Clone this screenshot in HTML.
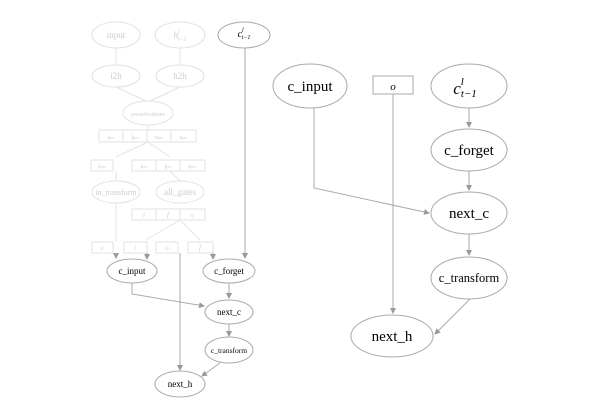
<!DOCTYPE html>
<html><head><style>body{margin:0;background:#fff}</style></head><body>
<svg width="600" height="413" viewBox="0 0 600 413" xmlns="http://www.w3.org/2000/svg" font-family="Liberation Serif, serif">
<defs>
<marker id="a" markerWidth="6" markerHeight="6" refX="5" refY="3" orient="auto"><path d="M0,0L6,3L0,6z" fill="#999"/></marker>
<marker id="b" markerWidth="6" markerHeight="6" refX="5" refY="3" orient="auto"><path d="M0,0L6,3L0,6z" fill="#ddd"/></marker>
</defs>
<!-- faint left part -->
<g stroke="#e2e2e2" fill="none">
<ellipse cx="116" cy="35" rx="24" ry="13"/><ellipse cx="180" cy="35" rx="25" ry="13"/>
<ellipse cx="116" cy="76" rx="24" ry="11"/><ellipse cx="180" cy="76" rx="24" ry="11"/>
<ellipse cx="148" cy="113" rx="25" ry="12"/>
<rect x="99" y="130" width="97" height="12"/><line x1="123" y1="130" x2="123" y2="142"/><line x1="147" y1="130" x2="147" y2="142"/><line x1="171" y1="130" x2="171" y2="142"/>
<rect x="91" y="160" width="22" height="11"/>
<rect x="132" y="160" width="73" height="11"/><line x1="156" y1="160" x2="156" y2="171"/><line x1="180" y1="160" x2="180" y2="171"/>
<ellipse cx="116" cy="192" rx="24" ry="11"/><ellipse cx="180" cy="192" rx="24" ry="11"/>
<rect x="132" y="209" width="73" height="11"/><line x1="156" y1="209" x2="156" y2="220"/><line x1="180" y1="209" x2="180" y2="220"/>
<rect x="92" y="242" width="21" height="11"/><rect x="124" y="242" width="23" height="11"/><rect x="156" y="242" width="22" height="11"/><rect x="188" y="242" width="25" height="11"/>
<path d="M116 48V65M180 48V65M116 87L146 101M180 87L150 101M148 125V130M148 142L116 157M148 142L170 157M116 171V181M170 171L180 181M116 203V242M180 220L146 240M180 220L200 240"/>
</g>
<g fill="#ccc" font-size="9" text-anchor="middle">
<text x="116" y="38">input</text><text x="180" y="38" font-style="italic">h<tspan font-size="6" dy="-4">l</tspan><tspan font-size="6" dx="-2" dy="7">t−1</tspan></text>
<text x="116" y="79">i2h</text><text x="180" y="79">h2h</text>
<text x="148" y="116" font-size="6">preactivations</text>
<text x="111" y="139" font-size="6" font-style="italic">i<tspan font-size="4">pre</tspan></text><text x="135" y="139" font-size="6" font-style="italic">f<tspan font-size="4">pre</tspan></text><text x="159" y="139" font-size="6" font-style="italic">o<tspan font-size="4">pre</tspan></text><text x="183" y="139" font-size="6" font-style="italic">x<tspan font-size="4">pre</tspan></text>
<text x="102" y="168" font-size="6" font-style="italic">x<tspan font-size="4">pre</tspan></text>
<text x="144" y="168" font-size="6" font-style="italic">i<tspan font-size="4">pre</tspan></text><text x="168" y="168" font-size="6" font-style="italic">f<tspan font-size="4">pre</tspan></text><text x="192" y="168" font-size="6" font-style="italic">o<tspan font-size="4">pre</tspan></text>
<text x="116" y="195" font-size="8">in_transform</text><text x="180" y="195">all_gates</text>
<g font-size="7" font-style="italic"><text x="144" y="217">i</text><text x="168" y="217">f</text><text x="192" y="217">o</text>
<text x="102" y="250">x</text><text x="135" y="250">i</text><text x="167" y="250">o</text><text x="200" y="250">f</text></g>
</g>
<!-- dark left part -->
<g stroke="#aaa" fill="none">
<ellipse cx="244" cy="35" rx="26" ry="13"/>
<ellipse cx="132" cy="271" rx="25" ry="12"/><ellipse cx="229" cy="271" rx="26" ry="12"/>
<ellipse cx="229" cy="312" rx="24" ry="12"/><ellipse cx="229" cy="350" rx="24" ry="13"/>
<ellipse cx="180" cy="384" rx="25" ry="13"/>
</g>
<g stroke="#aaa" fill="none" marker-end="url(#a)">
<path d="M245 48V258"/><path d="M180 253V370"/><path d="M116 253V258"/><path d="M147 253L147 259"/><path d="M213 253V259"/>
<path d="M132 283V294L204 306"/><path d="M229 283V298"/><path d="M229 324V336"/><path d="M220 363L202 376"/>
</g>
<g font-size="9" text-anchor="middle" fill="#000">
<text x="244" y="37" font-style="italic" font-size="10">c<tspan font-size="6" dy="-5">l</tspan><tspan font-size="6" dx="-2" dy="7">t−1</tspan></text>
<text x="132" y="274">c_input</text><text x="229" y="274">c_forget</text><text x="229" y="315">next_c</text>
<text x="229" y="353" font-size="7.5">c_transform</text><text x="180" y="387">next_h</text>
</g>
<!-- right part -->
<g stroke="#aaa" fill="none">
<ellipse cx="310" cy="86" rx="37" ry="22"/>
<rect x="373" y="76" width="40" height="18"/>
<ellipse cx="469" cy="86" rx="38" ry="22"/>
<ellipse cx="469" cy="150" rx="38" ry="21"/>
<ellipse cx="469" cy="213" rx="38" ry="21"/>
<ellipse cx="469" cy="278" rx="38" ry="21"/>
<ellipse cx="392" cy="336" rx="41" ry="21"/>
</g>
<g stroke="#aaa" fill="none" marker-end="url(#a)">
<path d="M393 94V313"/><path d="M469 108V127"/><path d="M469 171V190"/><path d="M469 234V255"/>
<path d="M314 108V188L429 213"/><path d="M470 299L435 334"/>
</g>
<g font-size="15" text-anchor="middle" fill="#000">
<text x="310" y="91">c_input</text>
<text x="393" y="90" font-style="italic" font-size="11">o</text>
<text x="465" y="94" font-style="italic" font-size="17">c<tspan font-size="11" dy="-9">l</tspan><tspan font-size="11" dx="-3" dy="12">t−1</tspan></text>
<text x="469" y="155">c_forget</text><text x="469" y="218">next_c</text>
<text x="469" y="282" font-size="12.5">c_transform</text>
<text x="392" y="341">next_h</text>
</g>
</svg>
</body></html>
